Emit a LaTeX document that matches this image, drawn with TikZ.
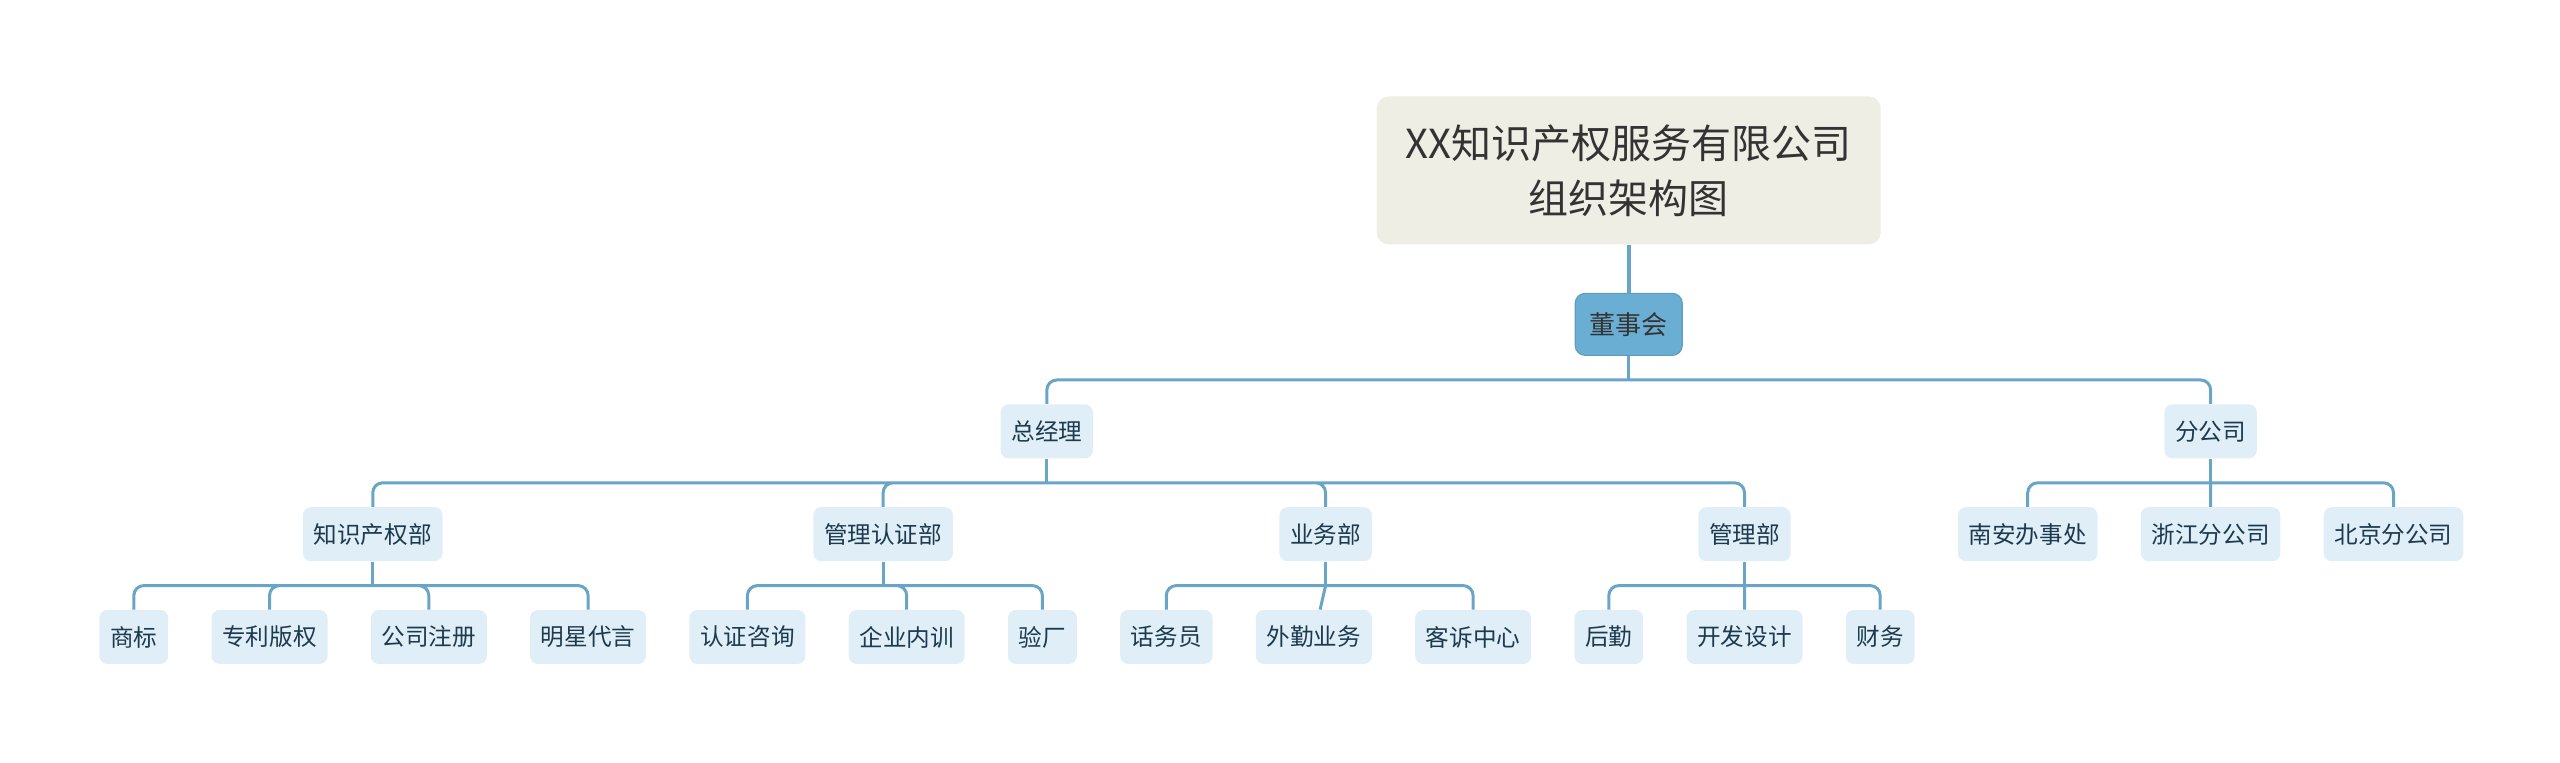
\documentclass[tikz,border=0pt]{standalone}
\usepackage{fontspec}
\setmainfont{Noto Sans CJK SC}
\usetikzlibrary{positioning, calc}
\definecolor{OrgLine}{HTML}{68A5C6}
\definecolor{OrgBlue}{HTML}{6BAED3}
\definecolor{OrgBlueDark}{HTML}{5E9DC0}
\definecolor{OrgPale}{HTML}{DFEEF7}
\definecolor{OrgTitle}{HTML}{EEEEE5}
\definecolor{OrgDark}{HTML}{333333}
\definecolor{OrgText}{HTML}{1D3A4E}

\begin{document}
\begin{tikzpicture}[node distance=24pt and 21.25pt,
        title/.style={rectangle, fill=OrgTitle, rounded corners=6pt, text=OrgDark, align=center, minimum width=252pt, minimum height=74pt, font=\fontsize{20}{27.5}\selectfont},
        board/.style={rectangle, fill=OrgBlue, draw=OrgBlueDark, line width=0.6pt, rounded corners=5pt, text=OrgDark, minimum width=53.5pt, minimum height=31pt, font=\fontsize{13}{15}\selectfont},
        item/.style={rectangle, fill=OrgPale, rounded corners=4pt, text=OrgText, minimum height=27pt, inner xsep=5.4pt, inner ysep=0pt, font=\fontsize{11.8}{13}\selectfont},
        link/.style={draw=OrgLine, line width=1.5pt, rounded corners=5pt}]

        \useasboundingbox (0,0) rectangle (1280pt,381.5pt);

        % bottom row
        \node[item, anchor=west] (shangbiao) at (49.5pt,63pt) {商标};
        \node[item, right=of shangbiao] (zhuanli) {专利版权};
        \node[item, right=of zhuanli] (gongsi) {公司注册};
        \node[item, right=of gongsi] (mingxing) {明星代言};
        \node[item, right=of mingxing] (zixun) {认证咨询};
        \node[item, right=of zixun] (neixun) {企业内训};
        \node[item, right=of neixun] (yanchang) {验厂};
        \node[item, right=of yanchang] (huawu) {话务员};
        \node[item, right=of huawu] (waiqin) {外勤业务};
        \node[item, right=of waiqin] (kesu) {客诉中心};
        \node[item, right=of kesu] (houqin) {后勤};
        \node[item, right=of houqin] (kaifa) {开发设计};
        \node[item, right=of kaifa] (caiwu) {财务};

        % departments
        \coordinate (m1) at ($(shangbiao.north west)!0.5!(mingxing.north east)$);
        \node[item, above=of m1] (zscq) {知识产权部};
        \coordinate (m2) at ($(zixun.north west)!0.5!(yanchang.north east)$);
        \node[item, above=of m2] (glrz) {管理认证部};
        \coordinate (m3) at ($(huawu.north west)!0.5!(kesu.north east)$);
        \node[item, above=of m3] (yewu) {业务部};
        \coordinate (m4) at ($(houqin.north west)!0.5!(caiwu.north east)$);
        \node[item, above=of m4] (guanli) {管理部};

        % branch offices
        \coordinate (m5) at ($(caiwu.east)+(21.25pt,0)$);
        \node[item, anchor=west] (nanan) at (m5 |- guanli) {南安办事处};
        \node[item, right=of nanan] (zhejiang) {浙江分公司};
        \node[item, right=of zhejiang] (beijing) {北京分公司};

        % top levels
        \coordinate (m6) at ($(zscq.north west)!0.5!(guanli.north east)$);
        \node[item, above=of m6] (zongjingli) {总经理};
        \coordinate (m7) at ($(nanan.north west)!0.5!(beijing.north east)$);
        \node[item, above=of m7] (fengongsi) {分公司};
        \coordinate (m8) at ($(zongjingli.north west)!0.5!(fengongsi.north east)$);
        \node[board, above=of m8] (dongshi) {董事会};
        \node[title, above=of dongshi] (title) {XX知识产权服务有限公司\\组织架构图};

        % connectors
        \draw[link, line width=2pt] (title) -- (dongshi);
        \draw[link] (dongshi.south) -- ++(0,-12pt) coordinate (b0);
        \draw[link] (b0) -| (zongjingli) (b0) -| (fengongsi);

        \draw[link] (zongjingli.south) -- ++(0,-12pt) coordinate (b1);
        \draw[link] (b1) -| (zscq) (b1) -| (glrz) (b1) -| (yewu) (b1) -| (guanli);

        \draw[link] (fengongsi.south) -- ++(0,-12pt) coordinate (b6);
        \draw[link] (b6) -| (nanan) (b6) -- (zhejiang) (b6) -| (beijing);

        \draw[link] (zscq.south) -- ++(0,-12pt) coordinate (b2);
        \draw[link] (b2) -| (shangbiao) (b2) -| (zhuanli) (b2) -| (gongsi) (b2) -| (mingxing);

        \draw[link] (glrz.south) -- ++(0,-12pt) coordinate (b3);
        \draw[link] (b3) -| (zixun) (b3) -| (neixun) (b3) -| (yanchang);

        \draw[link] (yewu.south) -- ++(0,-12pt) coordinate (b4);
        \draw[link] (b4) -| (huawu) (b4) -- (waiqin) (b4) -| (kesu);

        \draw[link] (guanli.south) -- ++(0,-12pt) coordinate (b5);
        \draw[link] (b5) -| (houqin) (b5) -- (kaifa) (b5) -| (caiwu);
    \end{tikzpicture}
\end{document}
